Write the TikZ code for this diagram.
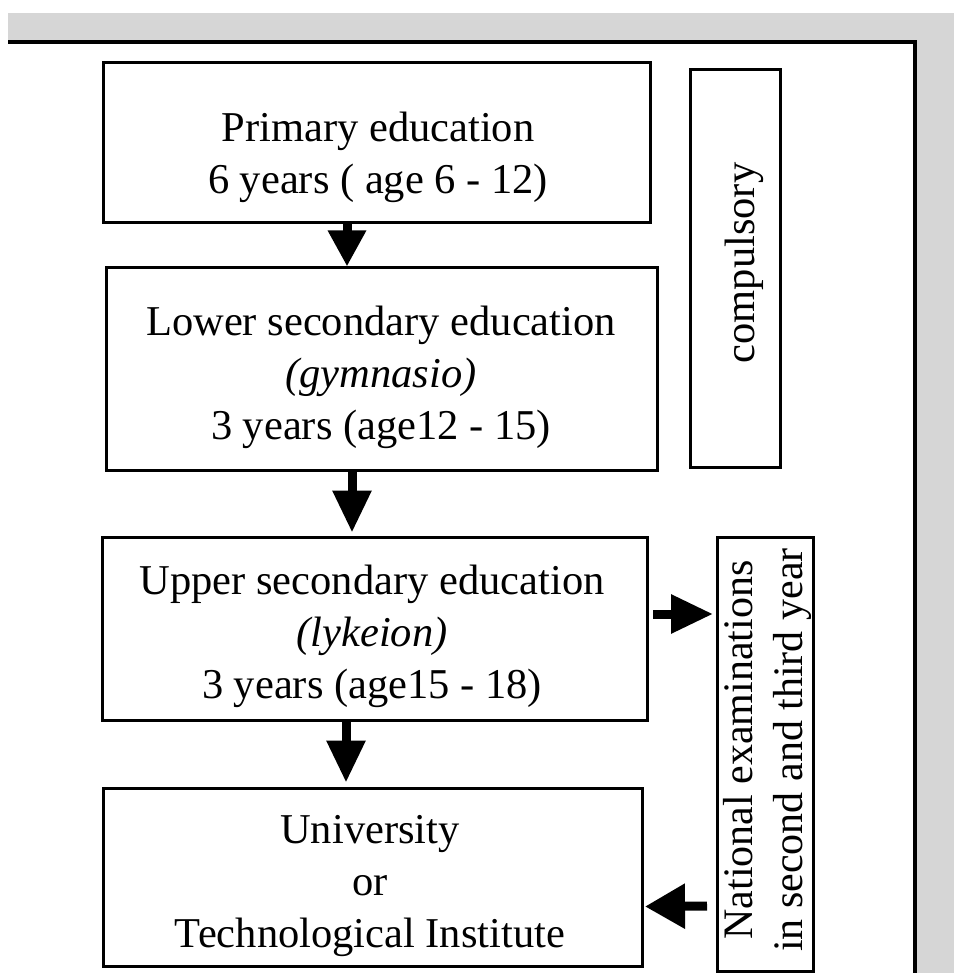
\documentclass[tikz,border=0pt]{standalone}
\usepackage{fontspec}
\setmainfont{Liberation Serif}
\usetikzlibrary{arrows.meta}
\begin{document}
\begin{tikzpicture}[x=1pt,y=-1pt,
  box/.style={draw, line width=3pt, rectangle, inner sep=0pt},
  txt/.style={align=center, font=\fontsize{42.5}{52}\selectfont, inner sep=0pt},
  bigarr/.style={line width=9pt, -{Triangle[length=42pt,width=37pt]}},
]
\useasboundingbox (0,0) rectangle (954,973);
% speckled page border
\fill[black!16] (8,13) rectangle (954,40);
\fill[black!16] (916,13) rectangle (954,973);
\draw[line width=4pt] (8,42) -- (914.5,42) -- (914.5,973);

% boxes
\node[box, minimum width=547pt, minimum height=160pt] (b1) at (376.5,143) {};
\node[box, minimum width=551pt, minimum height=202pt] (b2) at (381.5,369) {};
\node[box, minimum width=545pt, minimum height=183pt] (b3) at (374.5,628.5) {};
\node[box, minimum width=539pt, minimum height=178pt] (b4) at (372.5,877) {};
\node[box, minimum width=90pt, minimum height=397pt] (cb) at (735,268.5) {};
\node[box, minimum width=96pt, minimum height=434pt] (nb) at (765,754) {};

% texts
\node[txt] (t1) at (378,157.5) {Primary education\\6 years ( age 6 - 12)};
\node[txt] (t2) at (381,377.5) {Lower secondary education\\\textit{(gymnasio)}\\3 years (age12 - 15)};
\node[txt] (t3) at (372,636.5) {Upper secondary education\\\textit{(lykeion)}\\3 years (age15 - 18)};
\node[txt] (t4) at (370,886) {University\\or\\Technological Institute};
\node[txt, rotate=90] (tc) at (744.5,263) {compulsory};
\node[txt, rotate=90, font=\fontsize{42}{50}\selectfont] (tn) at (767,750) {National examinations\\in second and third year};

% arrows
\draw[bigarr, -{Triangle[length=36pt,width=36pt]}] ([xshift=-29.5pt]b1.south) -- ([xshift=-34.5pt]b2.north);
\draw[bigarr, shorten >=3pt] ([xshift=-29.5pt]b2.south) -- ([xshift=-22.5pt]b3.north);
\draw[bigarr, shorten >=4pt] ([xshift=-28.5pt]b3.south) -- ([xshift=-26.5pt]b4.north);
\draw[bigarr, shorten <=4.5pt, shorten >=2.5pt] ([yshift=14.5pt]b3.east) -- ([yshift=140pt]nb.west);
\draw[bigarr, -{Triangle[length=40pt,width=43pt]}, shorten <=8.5pt, shorten >=1.5pt] ([yshift=-152pt]nb.west) -- ([yshift=-29.5pt]b4.east);
\end{tikzpicture}
\end{document}
